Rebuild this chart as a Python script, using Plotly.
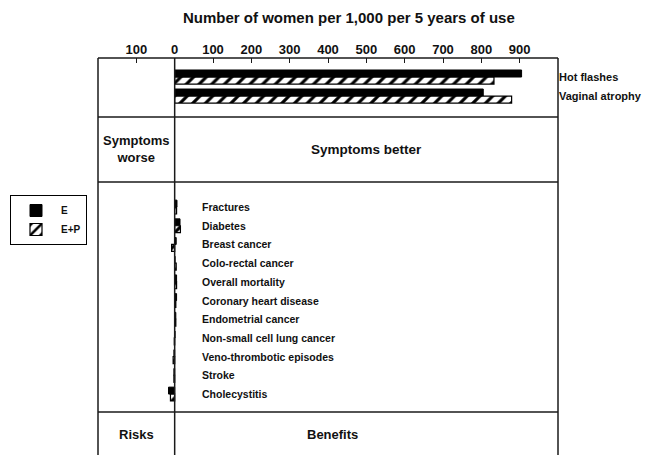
import plotly.graph_objects as go

# Figure canvas
W, H = 651, 455

# Symptom relief (women per 1,000 per 5 years of use)
symptoms = ["Hot flashes", "Vaginal atrophy"]
symptom_e = [905, 805]
symptom_ep = [833, 879]

# Risks (negative) and benefits (positive) per 1,000 women per 5 years
outcomes = [
    "Fractures",
    "Diabetes",
    "Breast cancer",
    "Colo-rectal cancer",
    "Overall mortality",
    "Coronary heart disease",
    "Endometrial cancer",
    "Non-small cell lung cancer",
    "Veno-thrombotic episodes",
    "Stroke",
    "Cholecystitis",
]
outcome_e = [6, 14, 4, 1, 5, 5, 3, 1, -2, -2, -16]
outcome_ep = [5, 15, -8, 4, 5, 3, 3, -1, -4, -2, -11]

x_ticks = [-100, 0, 100, 200, 300, 400, 500, 600, 700, 800, 900]
x_tick_text = [str(abs(v)) for v in x_ticks]

FONT = "Liberation Sans, Arial, Helvetica, sans-serif"
INK = "#111111"
LINE = "#1a1a1a"
LW = 1.5


def px_x(x):
    return x / W


def px_y(y):
    return 1 - y / H


e_marker = dict(color="black", line=dict(color="black", width=1))
ep_marker = dict(
    color="white",
    pattern=dict(shape="/", fgcolor="black", bgcolor="white", size=9,
                 solidity=0.35, fillmode="replace"),
    line=dict(color="black", width=1.2),
)

fig = go.Figure()

# Top panel: symptoms
fig.add_trace(go.Bar(y=symptoms, x=symptom_e, orientation="h", name="E",
                     legendgroup="E", marker=e_marker, xaxis="x", yaxis="y"))
fig.add_trace(go.Bar(y=symptoms, x=symptom_ep, orientation="h", name="E+P",
                     legendgroup="EP", marker=ep_marker, xaxis="x", yaxis="y"))

# Lower panel: risks and benefits
fig.add_trace(go.Bar(y=outcomes, x=outcome_e, orientation="h", name="E",
                     legendgroup="E", showlegend=False, marker=e_marker,
                     xaxis="x", yaxis="y2"))
fig.add_trace(go.Bar(y=outcomes, x=outcome_ep, orientation="h", name="E+P",
                     legendgroup="EP", showlegend=False, marker=ep_marker,
                     xaxis="x", yaxis="y2"))

bold = dict(family=FONT, color=INK, weight="bold")

fig.update_layout(
    width=W,
    height=H,
    margin=dict(l=0, r=0, t=0, b=0),
    paper_bgcolor="white",
    plot_bgcolor="white",
    font=dict(family=FONT, color=INK, size=11, weight="bold"),
    barmode="group",
    bargap=0.26,
    bargroupgap=0,
    xaxis=dict(
        domain=[px_x(98), px_x(558)],
        range=[-200, 1000],
        side="top",
        anchor="y",
        tickvals=x_ticks,
        ticktext=x_tick_text,
        ticks="inside",
        ticklen=5,
        tickwidth=1.2,
        tickcolor=LINE,
        showgrid=False,
        zeroline=False,
        showline=False,
        tickfont=dict(size=13, **bold),
    ),
    yaxis=dict(
        domain=[px_y(117), px_y(58)],
        range=[2.1, -1.0],
        side="right",
        anchor="x",
        showgrid=False,
        zeroline=False,
        showline=False,
        ticks="",
        tickfont=dict(size=11, **bold),
    ),
    yaxis2=dict(
        domain=[px_y(412), px_y(182)],
        range=[10.96, -1.34],
        anchor="x",
        showgrid=False,
        zeroline=False,
        showline=False,
        showticklabels=False,
        ticks="",
    ),
    legend=dict(
        x=px_x(10),
        y=px_y(195),
        xanchor="left",
        yanchor="top",
        bordercolor="black",
        borderwidth=1,
        bgcolor="white",
        font=dict(size=10, **bold),
        tracegroupgap=0,
        itemwidth=40,
    ),
)

# Frame and section dividers
shapes = []


def hline(y):
    shapes.append(dict(type="line", xref="paper", yref="paper",
                       x0=px_x(98), x1=px_x(558), y0=px_y(y), y1=px_y(y),
                       line=dict(color=LINE, width=LW)))


def vline_px(x):
    shapes.append(dict(type="line", xref="paper", yref="paper",
                       x0=px_x(x), x1=px_x(x), y0=0, y1=px_y(58),
                       line=dict(color=LINE, width=LW)))


for y in (58, 117, 182, 412):
    hline(y)
vline_px(98)
vline_px(558)
# zero line runs through every section
shapes.append(dict(type="line", xref="x", yref="paper", x0=0, x1=0,
                   y0=0, y1=px_y(58), line=dict(color=LINE, width=LW)))
fig.update_layout(shapes=shapes)

annotations = [
    dict(text="Number of women per 1,000 per 5 years of use", x=px_x(349),
         y=px_y(18), font=dict(size=15, **bold)),
    dict(text="Symptoms<br>worse", x=px_x(136), y=px_y(149.5),
         font=dict(size=13, **bold)),
    dict(text="Symptoms better", x=px_x(366), y=px_y(150),
         font=dict(size=13.5, **bold)),
    dict(text="Risks", x=px_x(136), y=px_y(434), font=dict(size=13, **bold)),
    dict(text="Benefits", x=px_x(332), y=px_y(434), font=dict(size=13, **bold)),
]
for a in annotations:
    a.update(xref="paper", yref="paper", showarrow=False,
             xanchor="center", yanchor="middle")

# Outcome names written beside the zero line
for i, name in enumerate(outcomes):
    annotations.append(dict(text=name, xref="x", yref="y2", x=66, y=i,
                            xanchor="left", yanchor="middle", showarrow=False,
                            font=dict(size=10.5, **bold)))

fig.update_layout(annotations=annotations)

fig.write_html("out.html")
